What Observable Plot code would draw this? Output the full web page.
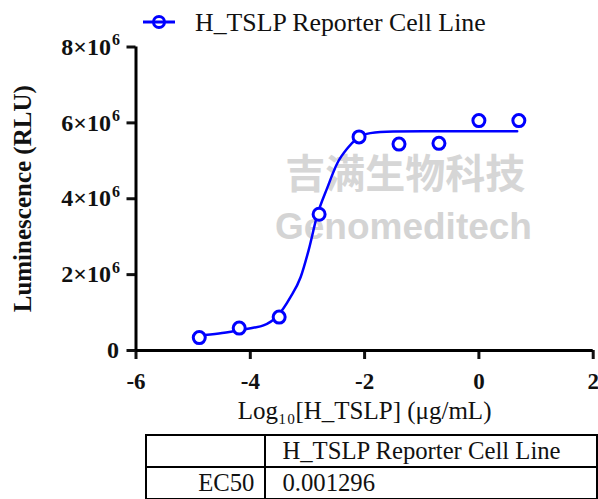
<!DOCTYPE html>
<html>
<head>
<meta charset="utf-8">
<script src="https://cdn.jsdelivr.net/npm/d3@7"></script>
<script src="https://cdn.jsdelivr.net/npm/@observablehq/plot@0.6"></script>
<style>
  html, body { margin: 0; padding: 0; background: #fff; width: 598px; height: 499px; overflow: hidden; }
  #legend { position: absolute; left: 0; top: 0; width: 598px; height: 30px; overflow: visible; }
  #chart { position: absolute; left: 0; top: 30px; }
  #tbl { position: absolute; left: 145px; top: 434px; border-collapse: collapse;
         font-family: "Liberation Serif", "Times New Roman", serif; font-size: 24.7px; color: #111; }
  #tbl td { border: 2px solid #000; height: 30px; line-height: 28px; padding: 0; vertical-align: middle; }
  #tbl td.c1 { width: 108px; text-align: right; padding-right: 10px; }
  #tbl td.c2 { width: 316px; text-align: left; padding-left: 16px; }
</style>
</head>
<body>
<div id="legend"></div>
<div id="chart"></div>
<div id="tblwrap"></div>
<script>
// ---- data ----
const seriesName = "H_TSLP Reporter Cell Line";
const logConc = [-4.893, -4.194, -3.495, -2.796, -2.097, -1.398, -0.699, 0, 0.699];
const rlu     = [0.34e6, 0.59e6, 0.88e6, 3.59e6, 5.63e6, 5.44e6, 5.46e6, 6.06e6, 6.06e6];
// fitted curve
const curveX = [-4.91, -4.55, -4.21, -3.95, -3.77, -3.53, -3.30, -3.12, -2.98, -2.83, -2.65, -2.48, -2.30, -2.13, -1.90, -1.50, -0.97, 0.0, 0.67];
const curveY = [0.40e6, 0.45e6, 0.53e6, 0.60e6, 0.66e6, 0.90e6, 1.40e6, 1.93e6, 2.64e6, 3.56e6, 4.30e6, 4.93e6, 5.33e6, 5.59e6, 5.73e6, 5.77e6, 5.78e6, 5.78e6, 5.78e6];
const xTicks = [-6, -4, -2, 0, 2];
const xTickLabels = ["-6", "-4", "-2", "0", "2"];
const yTicks = [0, 2e6, 4e6, 6e6, 8e6];
const yTickBase = ["0", "2\u00d710", "4\u00d710", "6\u00d710", "8\u00d710"];
const yTickExp  = ["", "6", "6", "6", "6"];
const yTitle = ["Luminescence (RLU)"];
const xTitle = ["Log\u2081\u2080[H_TSLP] (\u03bcg/mL)"];
const tableHeader = ["", "H_TSLP Reporter Cell Line"];
const tableRow = ["EC50", "0.001296"];
const wmCN = ["吉满生物科技"];
const wmEN = ["Genomeditech"];

const points = logConc.map((x, i) => ({x, y: rlu[i]}));
const curve = curveX.map((x, i) => ({x, y: curveY[i]}));
const yLab = yTicks.map((y, i) => ({y, base: yTickBase[i], exp: yTickExp[i]}));
const blue = "#0000ff";
const serif = "'Liberation Serif', 'Times New Roman', serif";

// ---- legend ----
document.getElementById("legend").innerHTML =
  `<svg width="598" height="40" style="overflow:visible">
     <circle cx="159" cy="22" r="5.5" fill="#fff" stroke="${blue}" stroke-width="3"/>
     <line x1="143" y1="22" x2="175" y2="22" stroke="${blue}" stroke-width="3"/>
     <text x="195" y="31" font-family="${serif}" font-size="25.8" fill="#111">${seriesName}</text>
   </svg>`;

// ---- chart ----
const tickText = {fontFamily: serif, fontWeight: "bold", fill: "#111"};
const chart = Plot.plot({
  width: 598,
  height: 404,
  marginLeft: 135.5,
  marginRight: 5.3,
  marginTop: 16.5,
  marginBottom: 84,
  style: {fontFamily: serif, fontSize: "21px", fontWeight: "bold", color: "#111", background: "transparent", overflow: "visible"},
  x: {domain: [-6, 2]},
  y: {domain: [0, 8e6]},
  marks: [
    Plot.text(wmCN, {x: () => -1.29, y: () => 4.62e6, text: d => d, fontSize: 40, fontFamily: "'Noto Sans CJK SC', sans-serif", fontWeight: "bold", fill: "#d6d6d6"}),
    Plot.text(wmEN, {x: () => -1.32, y: () => 3.25e6, text: d => d, fontSize: 37, fontFamily: "'Liberation Sans', Arial, sans-serif", fontWeight: "bold", fill: "#d4d4d4"}),
    Plot.axisX({ticks: xTicks, tickSize: 9, strokeWidth: 3, label: null, tickFormat: () => ""}),
    Plot.axisY({ticks: yTicks, tickSize: 9, strokeWidth: 3, label: null, tickFormat: () => ""}),
    // tick labels
    Plot.text(xTicks, {x: d => d, y: () => 0, text: (d, i) => xTickLabels[i], dy: 31, fontSize: 23, textAnchor: "middle", lineAnchor: "middle", ...tickText}),
    Plot.text(yLab.filter(d => d.exp === ""), {x: () => -6, y: "y", text: "base", dx: -17, fontSize: 24, textAnchor: "end", lineAnchor: "middle", ...tickText}),
    Plot.text(yLab.filter(d => d.exp !== ""), {x: () => -6, y: "y", text: "base", dx: -25, fontSize: 24, textAnchor: "end", lineAnchor: "middle", ...tickText}),
    Plot.text(yLab.filter(d => d.exp !== ""), {x: () => -6, y: "y", text: "exp", dx: -24, dy: -7, fontSize: 16, textAnchor: "start", lineAnchor: "middle", ...tickText}),
    Plot.ruleX([-6], {y1: 0, y2: 8e6, strokeWidth: 3, stroke: "#000"}),
    Plot.ruleY([0], {x1: -6, x2: 2, strokeWidth: 3, stroke: "#000"}),
    Plot.line(curve, {x: "x", y: "y", stroke: blue, strokeWidth: 2.5, curve: "monotone-x"}),
    Plot.dot(points, {x: "x", y: "y", r: 6, stroke: blue, strokeWidth: 3, fill: "#fff"}),
    Plot.text(yTitle, {frameAnchor: "left", text: d => d, rotate: -90, dx: -113, fontSize: 25, fontFamily: serif, fontWeight: "bold", textAnchor: "middle", lineAnchor: "middle", fill: "#111"}),
    Plot.text(xTitle, {frameAnchor: "bottom", text: d => d, dy: 60, fontSize: 25, fontFamily: serif, fontWeight: "normal", textAnchor: "middle", lineAnchor: "middle", fill: "#111"})
  ]
});
document.getElementById("chart").appendChild(chart);

// ---- table ----
const t = document.createElement("table");
t.id = "tbl";
const r1 = t.insertRow();
tableHeader.forEach((v, i) => { const c = r1.insertCell(); c.className = i ? "c2" : "c1"; c.textContent = v; });
const r2 = t.insertRow();
tableRow.forEach((v, i) => { const c = r2.insertCell(); c.className = i ? "c2" : "c1"; c.textContent = v; });
document.getElementById("tblwrap").appendChild(t);
</script>
</body>
</html>
